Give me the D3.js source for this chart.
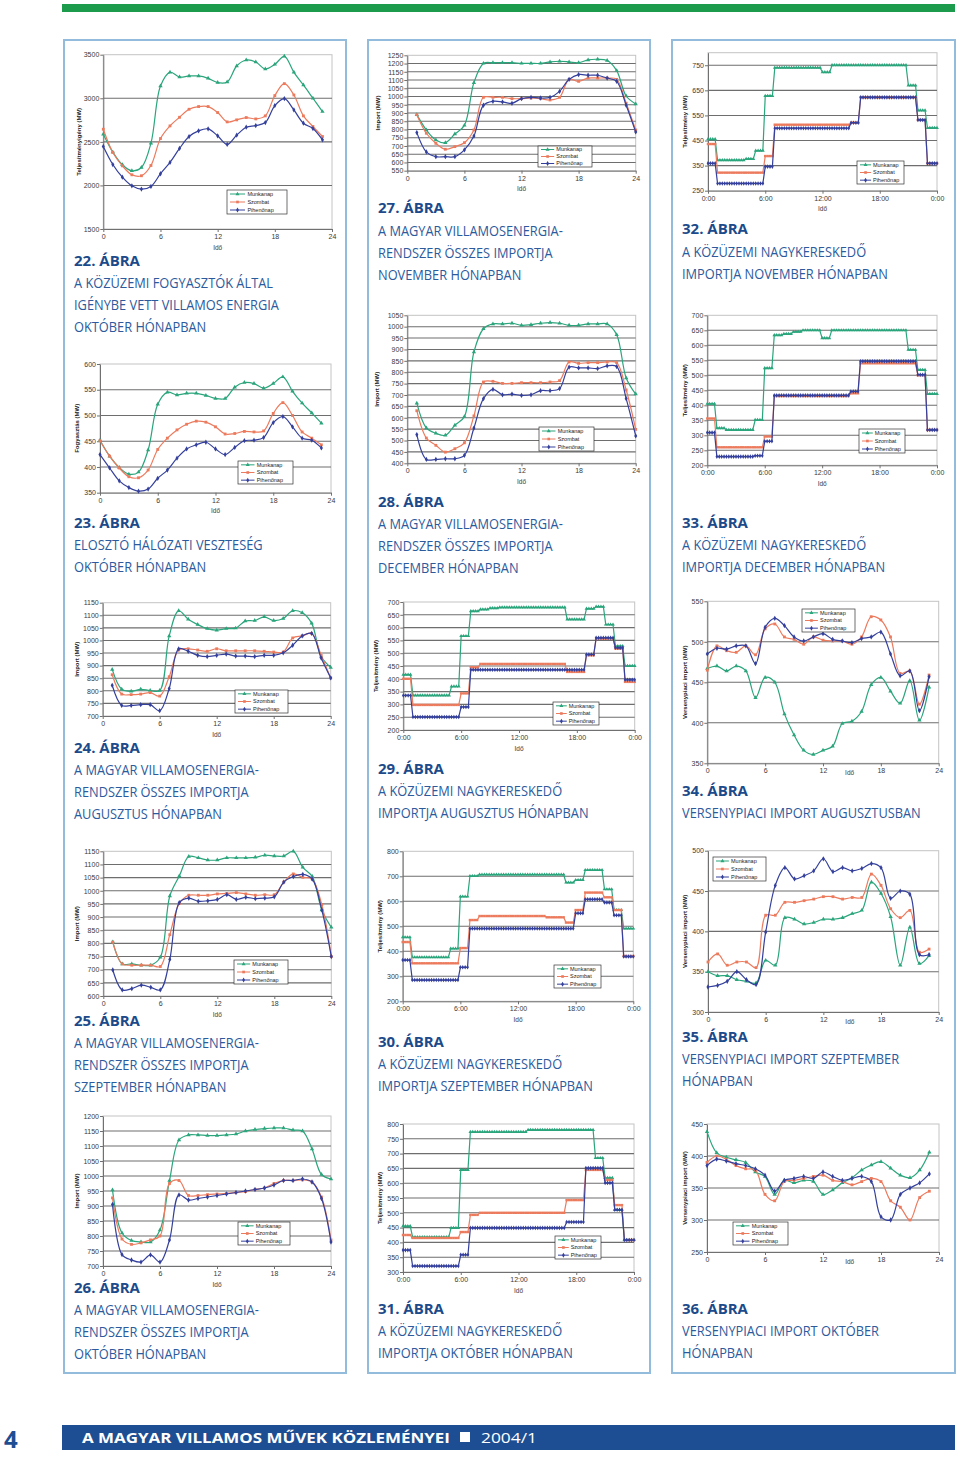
<!DOCTYPE html>
<html><head><meta charset="utf-8">
<script src="https://cdn.jsdelivr.net/npm/d3@7"></script>
<style>body{margin:0;background:#fff}svg{display:block}</style>
</head><body>
<svg id="page" width="960" height="1457"></svg>
<script>
// ---------- shared labels ----------
const seriesNames = ["Munkanap","Szombat","Pihenőnap"];
const seriesColors = ["#2aa57c","#ec7b5e","#34409c"];
const hourTicks = [0,6,12,18,24];
const timeTickLabels = ["0:00","6:00","12:00","18:00","0:00"];

// ---------- 22 ----------
const c22_m = [2588,2382,2237,2168,2206,2485,3141,3298,3244,3256,3256,3229,3180,3187,3370,3439,3416,3336,3389,3481,3298,3153,3000,2847];
const c22_s = [2645,2378,2225,2122,2111,2229,2538,2683,2782,2874,2905,2905,2836,2729,2752,2779,2763,2798,3031,3168,3038,2798,2676,2561];
const c22_p = [2447,2240,2095,1996,1958,1989,2134,2264,2424,2561,2626,2649,2569,2470,2577,2668,2687,2721,2916,2996,2866,2714,2653,2523];
const c22_yTicks = [1500,2000,2500,3000,3500];
const c22_caption = ["22. ÁBRA","A KÖZÜZEMI FOGYASZTÓK ÁLTAL","IGÉNYBE VETT VILLAMOS ENERGIA","OKTÓBER HÓNAPBAN"];
// ---------- 23 ----------
const c23_m = [452,421,399,386,390,433,522,545,540,543,543,539,533,533,555,564,562,553,562,575,547,524,505,485];
const c23_s = [451,421,398,381,379,394,434,456,472,483,489,487,478,464,465,469,468,470,504,525,500,468,456,443];
const c23_p = [424,398,373,360,353,357,378,394,417,435,443,448,435,424,438,451,452,457,486,498,478,456,452,437];
const c23_yTicks = [350,400,450,500,550,600];
const c23_caption = ["23. ÁBRA","ELOSZTÓ HÁLÓZATI VESZTESÉG","OKTÓBER HÓNAPBAN"];
// ---------- 24 ----------
const c24_m = [885,806,798,806,801,801,1018,1118,1084,1063,1047,1041,1047,1049,1077,1079,1094,1079,1087,1118,1110,1068,936,893];
const c24_s = [864,787,785,787,793,779,856,962,967,962,957,967,959,959,959,959,957,954,954,1010,1018,1028,941,851];
const c24_p = [822,742,742,745,745,721,809,967,957,941,936,941,946,938,938,936,941,941,951,981,1018,1028,930,851];
const c24_yTicks = [700,750,800,850,900,950,1000,1050,1100,1150];
const c24_caption = ["24. ÁBRA","A MAGYAR VILLAMOSENERGIA-","RENDSZER ÖSSZES IMPORTJA","AUGUSZTUS HÓNAPBAN"];
// ---------- 25 ----------
const c25_m = [805,722,722,717,717,747,980,1056,1130,1125,1117,1117,1125,1125,1125,1127,1135,1132,1132,1150,1089,1054,927,861];
const c25_s = [805,722,717,717,717,712,833,952,983,983,983,988,990,993,988,983,985,985,1033,1064,1051,1044,947,750];
const c25_p = [699,623,628,641,633,623,739,955,972,960,962,967,985,967,975,970,972,977,1033,1054,1062,1044,927,750];
const c25_yTicks = [600,650,700,750,800,850,900,950,1000,1050,1100,1150];
const c25_caption = ["25. ÁBRA","A MAGYAR VILLAMOSENERGIA-","RENDSZER ÖSSZES IMPORTJA","SZEPTEMBER HÓNAPBAN"];
// ---------- 26 ----------
const c26_m = [953,810,785,780,780,820,985,1120,1137,1137,1135,1135,1137,1140,1150,1155,1158,1160,1160,1153,1150,1090,1005,990];
const c26_s = [927,790,772,777,787,800,975,985,935,935,938,940,942,945,948,955,960,975,985,985,987,980,930,787];
const c26_p = [905,738,720,713,737,713,787,937,920,925,930,935,940,945,950,955,960,970,985,985,990,980,925,780];
const c26_yTicks = [700,750,800,850,900,950,1000,1050,1100,1150,1200];
const c26_caption = ["26. ÁBRA","A MAGYAR VILLAMOSENERGIA-","RENDSZER ÖSSZES IMPORTJA","OKTÓBER HÓNAPBAN"];
// ---------- 27 ----------
const c27_m = [890,797,736,720,773,825,1084,1201,1205,1205,1205,1201,1201,1201,1210,1214,1210,1205,1222,1226,1218,1157,1003,955];
const c27_s = [890,777,716,680,696,720,797,995,995,995,987,987,991,987,979,995,1104,1092,1112,1112,1112,1104,959,797];
const c27_p = [781,664,635,635,635,676,760,947,971,967,959,987,995,991,995,1031,1104,1133,1129,1129,1112,1092,947,785];
const c27_yTicks = [550,600,650,700,750,800,850,900,950,1000,1050,1100,1150,1200,1250];
const c27_caption = ["27. ÁBRA","A MAGYAR VILLAMOSENERGIA-","RENDSZER ÖSSZES IMPORTJA","NOVEMBER HÓNAPBAN"];
// ---------- 28 ----------
const c28_m = [664,555,532,523,567,605,889,991,1012,1012,1015,1006,1009,1015,1018,1015,1006,1006,1012,1012,1012,965,775,704];
const c28_s = [631,511,479,449,464,490,608,757,760,751,751,754,754,754,757,763,845,839,842,842,845,842,722,549];
const c28_p = [526,417,417,420,420,435,555,684,725,701,704,698,701,719,719,728,822,819,819,816,828,825,684,520];
const c28_yTicks = [400,450,500,550,600,650,700,750,800,850,900,950,1000,1050];
const c28_caption = ["28. ÁBRA","A MAGYAR VILLAMOSENERGIA-","RENDSZER ÖSSZES IMPORTJA","DECEMBER HÓNAPBAN"];
// ---------- 29 (hourly blocks) ----------
const c29_m = [416,335,335,335,335,370,567,664,671,676,679,679,679,679,679,679,679,632,632,674,682,612,528,450];
const c29_s = [400,298,298,298,298,298,343,445,458,458,458,458,458,458,458,458,458,427,427,492,557,557,518,388];
const c29_p = [335,251,251,251,251,251,290,435,435,435,435,435,435,435,435,435,435,435,435,495,560,560,521,396];
const c29_yTicks = [200,250,300,350,400,450,500,550,600,650,700];
const c29_caption = ["29. ÁBRA","A KÖZÜZEMI NAGYKERESKEDŐ","IMPORTJA AUGUSZTUS HÓNAPBAN"];
// ---------- 30 ----------
const c30_m = [456,376,376,376,376,411,619,701,707,707,707,707,707,707,707,707,707,675,685,725,725,648,565,491];
const c30_s = [437,352,352,352,352,352,413,525,541,541,541,541,541,541,541,536,536,515,565,635,635,616,565,381];
const c30_p = [365,285,285,285,285,285,336,491,491,491,491,491,491,491,491,491,491,491,552,608,608,595,544,379];
const c30_yTicks = [200,300,400,500,600,700,800];
const c30_caption = ["30. ÁBRA","A KÖZÜZEMI NAGYKERESKEDŐ","IMPORTJA SZEPTEMBER HÓNAPBAN"];
// ---------- 31 ----------
const c31_m = [455,418,418,418,418,449,645,773,773,773,773,773,773,780,780,780,780,780,780,780,685,618,510,408];
const c31_s = [425,415,415,415,415,415,435,493,500,500,500,500,500,500,500,500,500,543,543,645,645,611,526,408];
const c31_p = [374,320,320,320,320,320,358,449,449,449,449,449,449,449,449,449,449,469,469,651,651,601,510,408];
const c31_yTicks = [300,350,400,450,500,550,600,650,700,750,800];
const c31_caption = ["31. ÁBRA","A KÖZÜZEMI NAGYKERESKEDŐ","IMPORTJA OKTÓBER HÓNAPBAN"];
// ---------- 32 ----------
const c32_m = [455,372,372,372,377,410,628,740,740,740,740,740,722,750,750,750,750,750,750,750,750,670,570,500];
const c32_s = [436,322,322,322,322,322,388,513,513,513,513,513,513,513,513,521,622,622,622,622,622,622,532,359];
const c32_p = [359,279,279,279,279,279,346,499,499,499,499,499,499,499,499,521,622,622,622,622,622,622,532,359];
const c32_yTicks = [250,350,450,550,650,750];
const c32_caption = ["32. ÁBRA","A KÖZÜZEMI NAGYKERESKEDŐ","IMPORTJA NOVEMBER HÓNAPBAN"];
// ---------- 33 ----------
const c33_m = [405,324,318,318,318,351,524,634,638,645,650,650,624,650,650,650,650,650,650,650,650,585,518,438];
const c33_s = [356,260,260,260,260,260,296,431,431,431,431,431,431,431,431,440,540,540,540,540,540,540,500,318];
const c33_p = [309,229,229,229,229,232,280,433,433,433,433,433,433,433,433,446,547,547,547,547,547,547,502,318];
const c33_yTicks = [200,250,300,350,400,450,500,550,600,650,700];
const c33_caption = ["33. ÁBRA","A KÖZÜZEMI NAGYKERESKEDŐ","IMPORTJA DECEMBER HÓNAPBAN"];
// ---------- 34 ----------
const c34_m = [467,470,464,470,464,431,456,450,411,385,366,361,366,371,399,402,414,447,456,439,424,452,403,444];
const c34_s = [465,495,489,487,495,484,516,522,506,503,497,506,502,501,501,497,506,531,527,506,461,464,423,459];
const c34_p = [485,492,491,495,495,473,518,529,520,506,501,506,510,503,501,499,504,506,512,485,458,464,415,457];
const c34_yTicks = [350,400,450,500,550];
const c34_caption = ["34. ÁBRA","VERSENYPIACI IMPORT AUGUSZTUSBAN"];
// ---------- 35 ----------
const c35_m = [350,345,345,340,338,336,364,358,417,415,409,411,415,415,417,422,426,461,447,418,358,405,360,370];
const c35_s = [362,372,358,362,362,355,420,420,436,436,438,440,443,443,440,442,442,471,457,428,417,426,374,378];
const c35_p = [331,333,338,350,340,334,399,457,479,465,469,475,490,474,479,475,478,484,479,441,450,446,371,371];
const c35_yTicks = [300,350,400,450,500];
const c35_caption = ["35. ÁBRA","VERSENYPIACI IMPORT SZEPTEMBER","HÓNAPBAN"];
// ---------- 36 ----------
const c36_m = [438,405,398,394,390,375,368,340,362,358,362,360,340,347,358,366,378,386,391,381,370,366,378,406];
const c36_s = [390,400,395,385,380,378,340,330,360,362,365,368,370,362,360,355,360,365,360,330,320,300,335,345];
const c36_p = [385,395,392,388,385,380,370,345,362,365,368,365,375,368,362,365,368,360,305,300,340,350,358,372];
const c36_yTicks = [250,300,350,400,450];
const c36_caption = ["36. ÁBRA","VERSENYPIACI IMPORT OKTÓBER","HÓNAPBAN"];

const footerTitle = "A MAGYAR VILLAMOS MŰVEK KÖZLEMÉNYEI";
const footerIssue = "2004/1";
const pageNumber = "4";

// ---------- layout ----------
const T1="Teljesítményigény (MW)", T2="Fogyasztás (MW)", T3="Import (MW)", T4="Teljesítmény (MW)", T5="Versenypiaci import (MW)";
const panels = [
 {data:[c22_m,c22_s,c22_p],yTicks:c22_yTicks,cap:c22_caption,yTitle:T1,xStart:0,x0:103.3,x1:332,y0:54.7,y1:229,ytx:79,leg:[227,190,60,24],capX:74,capY:[261,283,305,327]},
 {data:[c23_m,c23_s,c23_p],yTicks:c23_yTicks,cap:c23_caption,yTitle:T2,xStart:0,x0:100,x1:331,y0:364,y1:492.7,ytx:77,leg:[238,461,55,23],capX:74,capY:[523,545,567]},
 {data:[c24_m,c24_s,c24_p],yTicks:c24_yTicks,cap:c24_caption,yTitle:T3,xStart:1,x0:102.7,x1:330.7,y0:602.7,y1:716,ytx:77,leg:[235,690,53,23],capX:74,capY:[748,770,792,814]},
 {data:[c25_m,c25_s,c25_p],yTicks:c25_yTicks,cap:c25_caption,yTitle:T3,xStart:1,x0:103.3,x1:331.3,y0:851.3,y1:996,ytx:77,leg:[234,960,54,24],capX:74,capY:[1021,1043,1065,1087]},
 {data:[c26_m,c26_s,c26_p],yTicks:c26_yTicks,cap:c26_caption,yTitle:T3,xStart:1,x0:103,x1:331,y0:1116,y1:1266,ytx:77,leg:[238,1222,52,23],capX:74,capY:[1288,1310,1332,1354]},
 {data:[c27_m,c27_s,c27_p],yTicks:c27_yTicks,cap:c27_caption,yTitle:T3,xStart:1,x0:407.3,x1:635.7,y0:55.3,y1:170.7,ytx:378,leg:[538,146,54,21],capX:378,capY:[208,231,253,275]},
 {data:[c28_m,c28_s,c28_p],yTicks:c28_yTicks,cap:c28_caption,yTitle:T3,xStart:1,x0:407.3,x1:635.7,y0:315.3,y1:463.3,ytx:377,leg:[539,427,55,24],capX:378,capY:[502,524,546,568]},
 {data:[c29_m,c29_s,c29_p],yTicks:c29_yTicks,cap:c29_caption,yTitle:T4,step:true,x0:403.3,x1:634.7,y0:602,y1:730,ytx:376,leg:[553,702,46,23],capX:378,capY:[769,791,813]},
 {data:[c30_m,c30_s,c30_p],yTicks:c30_yTicks,cap:c30_caption,yTitle:T4,step:true,x0:402.7,x1:633.3,y0:851.3,y1:1001.3,ytx:380,leg:[554,965,47,23],capX:378,capY:[1042,1064,1086]},
 {data:[c31_m,c31_s,c31_p],yTicks:c31_yTicks,cap:c31_caption,yTitle:T4,step:true,x0:403,x1:634,y0:1124,y1:1272,ytx:380,leg:[555,1236,46,23],capX:378,capY:[1309,1331,1353]},
 {data:[c32_m,c32_s,c32_p],yTicks:c32_yTicks,yMax:800,cap:c32_caption,yTitle:T4,step:true,x0:708,x1:937,y0:52.7,y1:190.7,ytx:685,leg:[857,161,47,23],capX:682,capY:[229,252,274]},
 {data:[c33_m,c33_s,c33_p],yTicks:c33_yTicks,cap:c33_caption,yTitle:T4,step:true,x0:707.3,x1:937,y0:315.3,y1:465.3,ytx:685,leg:[859,429,46,24],capX:682,capY:[523,545,567]},
 {data:[c34_m,c34_s,c34_p],yTicks:c34_yTicks,cap:c34_caption,yTitle:T5,xStart:0,inlineIdo:true,x0:707.3,x1:938.7,y0:601.3,y1:763.3,ytx:685,leg:[802,609,53,23],capX:682,capY:[791,813]},
 {data:[c35_m,c35_s,c35_p],yTicks:c35_yTicks,cap:c35_caption,yTitle:T5,xStart:0,inlineIdo:true,x0:708,x1:938.7,y0:850.7,y1:1012,ytx:685,leg:[713,857,53,24],capX:682,capY:[1037,1059,1081]},
 {data:[c36_m,c36_s,c36_p],yTicks:c36_yTicks,cap:c36_caption,yTitle:T5,xStart:0,inlineIdo:true,x0:707,x1:939,y0:1124,y1:1252,ytx:685,leg:[733,1222,55,23],capX:682,capY:[1309,1331,1353]}
];

const svg = d3.select("#page");
const FONT = "'Liberation Sans', Arial, sans-serif";
const CAPFONT = "'Open Sans', 'Noto Sans', sans-serif";
const symbols = [d3.symbolTriangle, d3.symbolSquare, d3.symbolDiamond];

// top green bar and column frames
svg.append("rect").attr("x",62).attr("y",4).attr("width",893).attr("height",8).attr("fill","#1b9b4b");
[[64,282],[368,282],[672,283]].forEach(([cx,w]) =>
  svg.append("rect").attr("x",cx).attr("y",40).attr("width",w).attr("height",1333)
    .attr("fill","none").attr("stroke","#92bbdc").attr("stroke-width",2));

function measure(txt,size,weight,style){
  const t = svg.append("text").attr("font-family",CAPFONT).attr("font-size",size)
    .attr("font-weight",weight).attr("font-style",style||"normal").text(txt);
  const w = t.node().getComputedTextLength(); t.remove(); return w;
}
const sxBody = 239 / measure("VERSENYPIACI IMPORT AUGUSZTUSBAN",14,400);
const sxTitle = 66 / measure("22. ÁBRA",15,700);

function pointsOf(p, vals){
  if(p.step){
    const pts=[];
    vals.forEach((v,h)=>{ for(let q=0;q<4;q++) pts.push([h+q/4, v]); });
    pts.push([24, vals[vals.length-1]]);
    return pts;
  }
  return vals.map((v,i)=>[p.xStart+i, v]);
}

panels.forEach(p => {
  const g = svg.append("g");
  const yMin = p.yTicks[0], yMax = p.yMax || p.yTicks[p.yTicks.length-1];
  const x = d3.scaleLinear().domain([0,24]).range([p.x0,p.x1]);
  const y = d3.scaleLinear().domain([yMin,yMax]).range([p.y1,p.y0]);

  g.append("rect").attr("x",p.x0).attr("y",p.y0).attr("width",p.x1-p.x0).attr("height",p.y1-p.y0)
    .attr("fill","#fff").attr("stroke","#c4c4c4").attr("stroke-width",1);
  g.selectAll("line.grid").data(p.yTicks.filter(v=>v>yMin && v<yMax)).join("line")
    .attr("x1",p.x0).attr("x2",p.x1).attr("y1",d=>y(d)).attr("y2",d=>y(d))
    .attr("stroke","#6e6e6e").attr("stroke-width",1.1);

  const ya = g.append("g").attr("transform",`translate(${p.x0},0)`)
    .call(d3.axisLeft(y).tickValues(p.yTicks).tickSize(3).tickSizeOuter(0).tickFormat(d3.format("d")));
  const xa = g.append("g").attr("transform",`translate(0,${p.y1})`)
    .call(d3.axisBottom(x).tickValues(hourTicks).tickSize(3).tickSizeOuter(0)
      .tickFormat((d,i)=> p.step ? timeTickLabels[i] : d));
  [ya,xa].forEach(a=>{
    a.select(".domain").attr("stroke","#707070");
    a.selectAll(".tick line").attr("stroke","#707070");
    a.selectAll("text").attr("font-family",FONT).attr("font-size",7).attr("fill","#3a3a3a");
  });
  ya.selectAll("text").attr("x",-4);
  xa.selectAll("text").attr("y",5);

  g.append("text").attr("transform",`translate(${p.ytx},${(p.y0+p.y1)/2}) rotate(-90)`)
    .attr("text-anchor","middle").attr("dy","0.35em").attr("font-family",FONT).attr("font-size",6)
    .attr("font-weight",700).attr("fill","#222").text(p.yTitle);
  if(p.inlineIdo){
    g.append("text").attr("x",p.x0+(p.x1-p.x0)*0.615).attr("y",p.y1+12).attr("text-anchor","middle")
      .attr("font-family",FONT).attr("font-size",6.5).attr("fill","#3a3a3a").text("Idő");
  } else {
    g.append("text").attr("x",(p.x0+p.x1)/2).attr("y",p.y1+20.5).attr("text-anchor","middle")
      .attr("font-family",FONT).attr("font-size",6.5).attr("fill","#3a3a3a").text("Idő");
  }

  const line = d3.line().x(d=>x(d[0])).y(d=>y(d[1]))
    .curve(p.step ? d3.curveLinear : d3.curveCatmullRom.alpha(0.5));
  p.data.forEach((vals,si)=>{
    const pts = pointsOf(p, vals);
    g.append("path").attr("d",line(pts)).attr("fill","none")
      .attr("stroke",seriesColors[si]).attr("stroke-width",1.2);
    g.selectAll(null).data(pts).join("path")
      .attr("d",d3.symbol(symbols[si], p.step?6:8))
      .attr("transform",d=>`translate(${x(d[0])},${y(d[1])})`)
      .attr("fill",seriesColors[si]);
  });

  const [lx,ly,lw,lh] = p.leg;
  g.append("rect").attr("x",lx).attr("y",ly).attr("width",lw).attr("height",lh)
    .attr("fill","#fff").attr("stroke","#333").attr("stroke-width",0.7);
  seriesNames.forEach((n,i)=>{
    const yy = ly + lh*(i+0.5)/3;
    const xa1 = lx+3, xa2 = lx+lw*0.3;
    g.append("line").attr("x1",xa1).attr("x2",xa2).attr("y1",yy).attr("y2",yy)
      .attr("stroke",seriesColors[i]).attr("stroke-width",1);
    g.append("path").attr("d",d3.symbol(symbols[i],7)).attr("transform",`translate(${(xa1+xa2)/2},${yy})`)
      .attr("fill",seriesColors[i]);
    g.append("text").attr("x",lx+lw*0.34).attr("y",yy).attr("dy","0.35em")
      .attr("font-family",FONT).attr("font-size",5.5).attr("fill","#222").text(n);
  });

  p.cap.forEach((t,i)=>{
    const bold = i===0;
    svg.append("text").attr("transform",`translate(${p.capX},${p.capY[i]+5}) scale(${bold?sxTitle:sxBody},1)`)
      .attr("font-family",CAPFONT).attr("font-size",bold?15:14).attr("font-weight",bold?700:400)
      .attr("fill",bold?"#1c4a8a":"#2c5b9d").text(t);
  });
});

// footer
svg.append("rect").attr("x",62).attr("y",1425).attr("width",893).attr("height",25).attr("fill","#1d4e93");
const sxFoot = 368 / measure(footerTitle,15,700);
svg.append("text").attr("transform",`translate(82,1443) scale(${sxFoot},1)`)
  .attr("font-family",CAPFONT).attr("font-size",15).attr("font-weight",700)
  .attr("fill","#fff").text(footerTitle);
svg.append("rect").attr("x",460).attr("y",1432).attr("width",10).attr("height",10).attr("fill","#fff");
const sxIssue = 56 / measure(footerIssue,15,400);
svg.append("text").attr("transform",`translate(481,1443) scale(${sxIssue},1)`).attr("font-family",CAPFONT).attr("font-size",15)
  .attr("fill","#fff").text(footerIssue);
svg.append("text").attr("x",4).attr("y",1448).attr("font-family",CAPFONT).attr("font-size",24)
  .attr("font-weight",700).attr("fill","#1d4e93").text(pageNumber);
</script>
</body></html>
